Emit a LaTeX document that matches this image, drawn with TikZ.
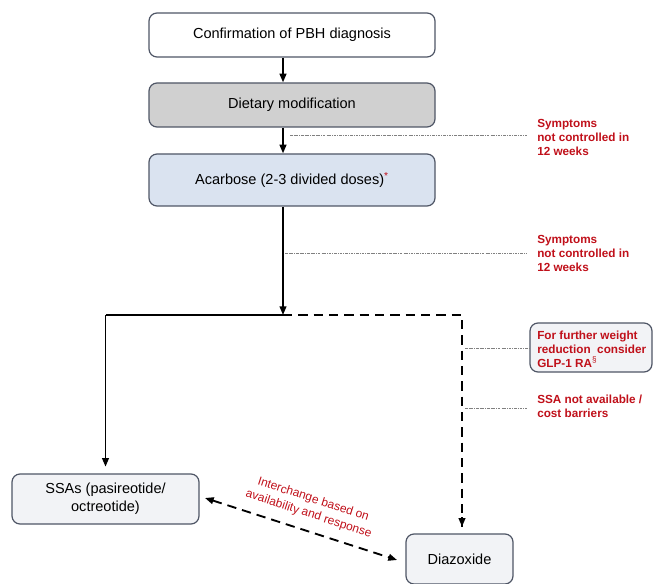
\documentclass[tikz,border=0pt]{standalone}
\usepackage{fontspec}
\setmainfont{Liberation Sans}
\usetikzlibrary{arrows.meta,calc}
\definecolor{bordc}{HTML}{4F5666}
\definecolor{greyfill}{HTML}{D0D0D0}
\definecolor{bluefill}{HTML}{DAE3F0}
\definecolor{lightfill}{HTML}{F2F3F6}
\definecolor{redtxt}{HTML}{C0101A}
\definecolor{dotc}{HTML}{808080}
\tikzset{
  box/.style={draw=bordc, line width=0.9pt, rounded corners=6pt, align=center,
    font=\fontsize{10.9}{13.5}\selectfont, inner sep=0pt},
  flow/.style={line width=1.4pt, -{Triangle[length=6.5pt,width=5pt]}},
  flowline/.style={line width=1.4pt},
  dflow/.style={line width=1.4pt, dash pattern=on 7pt off 4.5pt},
  note/.style={text=redtxt, font=\bfseries\fontsize{8.8}{10.5}\selectfont, align=left, inner sep=0pt},
  guide/.style={draw=dotc, line width=0.5pt, dash pattern=on 2pt off 0.8pt on 0.5pt off 0.8pt},
}
\begin{document}
\begin{tikzpicture}[x=0.75pt,y=-0.75pt]
\useasboundingbox (0,0) rectangle (656,584);
\clip (0,0) rectangle (656,584);
% boxes
\node[box, fill=white, minimum width=286*0.75pt, minimum height=44*0.75pt] (conf) at (292,35) {Confirmation of PBH diagnosis};
\node[box, fill=greyfill, minimum width=286*0.75pt, minimum height=44*0.75pt] (diet) at (292,105) {Dietary modification};
\node[box, fill=bluefill, minimum width=286*0.75pt, minimum height=52*0.75pt] (acar) at (292,180) {Acarbose (2-3 divided doses)\textsuperscript{\textcolor{redtxt}{*}}};
\node[box, fill=lightfill, minimum width=187*0.75pt, minimum height=50*0.75pt] (ssa) at (105.5,499) {SSAs (pasireotide/\\octreotide)};
\node[box, fill=lightfill, minimum width=107*0.75pt, minimum height=50*0.75pt] (diaz) at (459.5,559) {Diazoxide};
\node[box, fill=lightfill, minimum width=122*0.75pt, minimum height=49*0.75pt] (glp) at (591,347.5) {};
% coordinates
\coordinate (ax) at (283,0);
\coordinate (xe) at (527,0);
\coordinate (J) at (283,315);
\coordinate (L) at (105.5,315);
\coordinate (R) at (462,315);
% flow arrows
\draw[flow] (conf.south -| ax) -- (diet.north -| ax);
\draw[flow] (diet.south -| ax) -- (acar.north -| ax);
\draw[flow] (acar.south -| ax) -- (J);
\draw[flowline] (J) -- (L);
\draw[flow] (L) -- ([yshift=5pt]ssa.north);
\draw[dflow] (J) -- (R) -- ([yshift=5pt]diaz.north -| R);
\draw[line width=1.4pt, -{Triangle[length=6.5pt,width=5pt]}] ([yshift=12pt]diaz.north -| R) -- ([yshift=5pt]diaz.north -| R);
% interchange
\coordinate (i1) at (205,498);
\coordinate (i2) at (397,560);
\draw[dflow, {Triangle[length=6.5pt,width=5pt]}-{Triangle[length=6.5pt,width=5pt]}] (i1) -- (i2)
  node[midway, sloped, above=7.5pt, xshift=2pt, text=redtxt, align=center, font=\fontsize{9}{11.5}\selectfont, inner sep=0pt] (ilab) {Interchange based on\\availability and response};
% annotations
\coordinate (g1) at (290,135);
\coordinate (g2) at (285,253);
\coordinate (g3) at (465,348);
\coordinate (g4) at (465,408);
\node[note, anchor=west] (n1) at (537,137) {Symptoms\\not controlled in\\12 weeks};
\node[note, anchor=west] (n2) at (537,253) {Symptoms\\not controlled in\\12 weeks};
\node[note, anchor=west] (n3) at (537,349) {For further weight\\reduction\ \ consider\\GLP-1 RA\textsuperscript{\textmd{§}}};
\node[note, anchor=west] (n4) at (537,406) {SSA not available /\\cost barriers};
\draw[guide] (g1) -- (g1 -| xe);
\draw[guide] (g2) -- (g2 -| xe);
\draw[guide] (g3) -- (glp.west |- g3);
\draw[guide] (g4) -- (g4 -| xe);
\end{tikzpicture}
\end{document}
